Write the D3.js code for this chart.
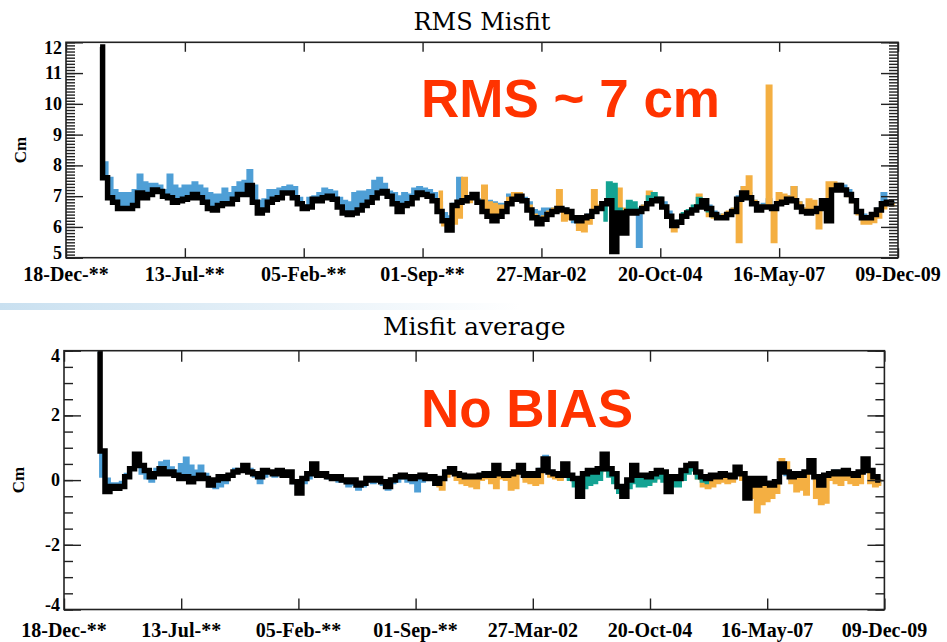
<!DOCTYPE html>
<html>
<head>
<meta charset="utf-8">
<script src="https://cdn.jsdelivr.net/npm/d3@7"></script>
<style>
    body { margin: 0; background: #fff; }
</style>
</head>
<body>
<svg id="chart" width="947" height="642"></svg>
<script>
// one sample every 4 cycles, first one at the start of the mission
var startDate = new Date(1992, 8, 12);
var stepDays = 39.4;

var tickDates = ['1991-12-18', '1994-07-13', '1997-02-05', '1999-09-01',
                 '2002-03-27', '2004-10-20', '2007-05-16', '2009-12-09'];
var tickLabels = ['18-Dec-**', '13-Jul-**', '05-Feb-**', '01-Sep-**',
                  '27-Mar-02', '20-Oct-04', '16-May-07', '09-Dec-09'];

var rmsTicks = [5, 6, 7, 8, 9, 10, 11, 12];
var avgTicks = [-4, -2, 0, 2, 4];

// RMS misfit (cm)
var rmsBlack = [
    11.85, 7.6, 6.95, 6.8, 6.6, 6.6, 6.6, 6.7, 7.1, 6.95,
    7.05, 7.2, 7.15, 7.0, 6.95, 6.8, 6.85, 6.9, 6.95, 7.05,
    6.95, 6.8, 6.6, 6.55, 6.7, 6.75, 6.75, 6.9, 7.05, 7.05,
    7.35, 6.8, 6.45, 6.55, 6.8, 6.9, 6.95, 7.1, 7.1, 6.95,
    6.75, 6.6, 6.65, 6.9, 6.85, 6.95, 7.0, 6.9, 6.65, 6.45,
    6.4, 6.45, 6.55, 6.7, 6.8, 6.95, 7.1, 7.15, 7.0, 6.75,
    6.5, 6.7, 6.75, 6.95, 7.1, 7.05, 7.0, 6.85, 6.5, 6.2,
    5.9, 6.7, 6.8, 6.85, 6.95, 7.05, 6.8, 6.5, 6.35, 6.2,
    6.35, 6.5, 6.75, 6.9, 7.0, 6.85, 6.55, 6.3, 6.1, 6.25,
    6.4, 6.5, 6.6, 6.55, 6.5, 6.3, 6.2, 6.3, 6.35, 6.5,
    6.6, 6.75, 6.85, 5.2, 6.45, 5.8, 6.5, 6.45, 6.5, 6.6,
    6.75, 6.85, 6.9, 6.65, 6.35, 6.05, 6.15, 6.35, 6.45, 6.55,
    6.65, 6.85, 6.6, 6.4, 6.3, 6.3, 6.4, 6.5, 6.9, 7.1,
    6.95, 6.75, 6.55, 6.65, 6.65, 6.6, 6.75, 6.8, 6.9, 6.85,
    6.65, 6.5, 6.45, 6.5, 6.6, 6.85, 6.2, 7.2, 7.35, 7.2,
    7.05, 6.85, 6.5, 6.3, 6.3, 6.4, 6.55, 6.75, 6.8, 6.75
];
var rmsBlue = [
    11.85, 8.1, 7.6, 7.2, 7.1, 7.1, 7.1, 7.2, 7.7, 7.45,
    7.4, 7.4, 7.35, 7.2, 7.7, 7.35, 7.25, 7.35, 7.35, 7.45,
    7.35, 7.25, 7.1, 7.05, 7.05, 7.25, 7.1, 7.3, 7.45, 7.5,
    7.85, 7.35, 6.85, 6.9, 7.2, 7.2, 7.25, 7.3, 7.35, 7.3,
    6.95, 6.7, 6.95, 7.0, 7.1, 7.25, 7.2, 7.15, 6.95, 6.85,
    6.8, 7.1, 7.15, 7.15, 7.2, 7.5, 7.6, 7.4, 7.15, 7.1,
    7.0, 7.1, 7.05, 7.25, 7.3, 7.25, 7.2, 7.1, 6.8, 6.45,
    6.35, 6.75, 7.6, 6.85, 6.95, 7.05, 6.9, 6.85, 6.85, 6.8,
    6.75, 6.75, 7.05, 7.1, 7.05, 6.95, 6.8, 6.55, 6.5, 6.6,
    6.6, 6.6, 6.65, 6.6, 6.55, 6.15, 6.05, 6.2, 6.4, 6.55,
    6.65, 6.8, 6.9, 6.95, 6.6, 6.5, 6.5, 6.55, 5.35, 6.7,
    6.8, 6.9, 6.95, 6.8, 6.5, 6.1, 6.2, 6.4, 6.5, 6.6,
    6.7, 6.85, 6.7, 6.5, 6.4, 6.35, 6.45, 6.6, 7.0, 7.3,
    7.1, 6.85, 6.6, 6.75, 6.9, 6.7, 6.8, 6.9, 7.0, 7.3,
    6.8, 6.6, 6.5, 6.55, 6.65, 6.9, 6.8, 7.25, 7.4, 7.35,
    7.2, 6.9, 6.55, 6.4, 6.35, 6.45, 6.6, 7.1, 6.85, 6.8
];
var rmsOrangeStart = 68;
var rmsOrange = [
    7.15, 6.05, 6.0, 6.1, 6.3, 7.6, 6.8, 7.0, 6.85, 7.35,
    6.8, 6.75, 6.7, 6.7, 6.95, 7.1, 7.1, 6.9, 6.7, 6.4,
    6.3, 6.35, 6.5, 6.6, 7.2, 6.2, 6.25, 6.3, 5.9, 5.85,
    6.1, 7.2, 6.7, 6.8, 6.9, 6.9, 7.25, 6.6, 6.55, 6.5,
    6.55, 6.7, 7.15, 7.0, 6.9, 6.7, 6.3, 5.85, 6.1, 6.3,
    6.5, 6.6, 7.05, 6.9, 6.35, 6.3, 6.3, 6.4, 6.5, 6.6,
    5.5, 7.3, 7.65, 6.85, 6.6, 6.7, 10.6, 5.5, 7.1, 7.05,
    7.0, 7.3, 6.8, 6.6, 6.9, 6.85, 5.95, 6.9, 7.45, 7.45,
    7.4, 7.2, 7.0, 6.8, 6.4, 6.1, 6.1, 6.15, 6.3, 6.6,
    6.75, 6.7
];
var rmsTealStart = 101;
var rmsTeal = [
    6.2, 7.45, 7.4, 6.6, 6.5, 6.85, 6.8, 6.6, 6.65, 7.0,
    7.1, 6.95, 6.7, 6.35, 6.1, 6.2, 6.45, 6.55, 6.7, 6.95,
    6.9, 6.5, 6.35, 6.3
];

// misfit average (cm)
var avgBlack = [
    3.95, 0.9, -0.35, -0.2, -0.25, -0.2, 0.1, 0.35, 0.8, 0.45,
    0.3, 0.1, 0.2, 0.35, 0.2, 0.25, 0.15, 0.05, 0.1, -0.05,
    0.05, 0.15, 0.05, -0.15, 0.0, 0.1, 0.05, 0.15, 0.25, 0.3,
    0.45, 0.25, 0.2, 0.1, 0.3, 0.25, 0.2, 0.3, 0.15, 0.25,
    -0.05, -0.4, 0.05, 0.2, 0.5, 0.15, 0.2, 0.1, 0.05, 0.1,
    0.0, -0.05, 0.0, -0.15, -0.1, 0.05, 0.0, 0.05, -0.05, -0.2,
    0.0, 0.1, 0.15, 0.1, 0.05, 0.1, 0.15, 0.05, 0.1, -0.1,
    0.05, 0.25, 0.35, 0.2, 0.15, 0.1, 0.12, 0.1, 0.15, 0.2,
    0.15, 0.45, 0.2, 0.15, 0.2, 0.25, 0.45, 0.15, 0.2, 0.15,
    0.3, 0.65, 0.25, 0.2, 0.15, 0.5, 0.15, 0.05, -0.5, 0.2,
    0.3, 0.25, 0.35, 0.8, 0.35, 0.2, -0.2, -0.5, 0.0, 0.45,
    0.15, 0.15, 0.1, 0.2, 0.3, 0.25, -0.35, 0.1, 0.05, 0.3,
    0.45, 0.5, 0.25, 0.1, 0.05, 0.15, 0.1, 0.2, 0.15, 0.1,
    0.4, 0.2, -0.55, 0.05, -0.15, 0.05, -0.1, -0.15, -0.05, 0.5,
    0.25, 0.1, 0.2, 0.15, 0.25, 0.6, 0.1, -0.15, 0.15, 0.2,
    0.25, 0.2, 0.3, 0.2, 0.15, 0.25, 0.65, 0.3, 0.1, 0.0
];
var avgBlue = [
    3.95, 0.1, 0.05, -0.1, -0.1, -0.05, 0.2, 0.4, 0.7, 0.2,
    0.05, -0.05, 0.35, 0.55, 0.6, 0.4, 0.3, 0.5, 0.7, 0.45,
    0.3, 0.45, 0.2, -0.2, -0.25, -0.2, -0.1, 0.1, 0.35, 0.3,
    0.5, 0.35, 0.1, -0.1, 0.1, 0.2, 0.1, 0.2, 0.1, 0.15,
    -0.1, -0.3, -0.1, 0.05, 0.3, 0.1, 0.15, 0.05, 0.0, -0.05,
    -0.05, -0.2, -0.15, -0.3, -0.2, -0.05, -0.1, -0.05, -0.15, -0.3,
    -0.1, -0.05, 0.05, -0.05, -0.1, -0.35, -0.05, 0.0, 0.05, -0.15,
    0.0, 0.3, 0.3, 0.15, 0.1, 0.0, -0.15, -0.1, 0.05, 0.1,
    0.05, 0.3, 0.1, 0.05, 0.1, 0.15, 0.3, 0.05, 0.1, 0.05,
    0.35, 0.75, 0.2, 0.1, 0.05, 0.35, 0.05, -0.05, -0.4, 0.1,
    0.2, 0.15, 0.25, 0.6, 0.25, 0.1, -0.3, -0.45, -0.1, 0.3,
    0.05, 0.05, 0.0, 0.1, 0.2, 0.15, -0.3, 0.0, -0.05, 0.2,
    0.4, 0.45, 0.15, 0.0, -0.05, 0.05, 0.0, 0.1, 0.05, 0.0,
    0.3, 0.1, -0.45, -0.05, -0.25, -0.05, -0.2, -0.2, -0.1, 0.35,
    0.15, 0.0, 0.1, 0.05, 0.15, 0.45, 0.0, -0.2, 0.05, 0.25,
    0.3, 0.25, 0.3, 0.25, 0.1, 0.2, 0.5, 0.2, 0.0, -0.1
];
var avgOrangeStart = 69;
var avgOrange = [
    -0.2, -0.3, 0.1, 0.2, 0.0, -0.1, -0.15, -0.2, -0.25, 0.0,
    0.05, -0.1, -0.25, 0.05, 0.0, -0.3, -0.25, 0.2, -0.05, -0.1,
    -0.15, -0.1, 0.5, 0.1, 0.05, 0.0, 0.3, 0.1, 0.0, -0.4,
    0.0, 0.1, 0.05, 0.2, 0.6, 0.2, 0.05, -0.15, -0.35, -0.05,
    0.3, 0.0, -0.05, -0.1, 0.0, 0.1, 0.05, -0.25, -0.1, -0.15,
    0.1, 0.3, 0.3, 0.05, -0.2, -0.25, -0.2, -0.1, -0.05, -0.1,
    -0.05, 0.2, 0.0, -0.4, -0.55, -1.0, -0.75, -0.65, -0.55, -0.4,
    0.65, 0.55, -0.1, -0.35, -0.3, -0.45, 0.3, -0.55, -0.75, -0.7,
    0.0, -0.1, -0.15, 0.0, -0.1, -0.15, -0.1, 0.3, -0.1, -0.2,
    -0.15
];
var avgTealStart = 95;
var avgTeal = [
    0.1, 0.0, -0.2, -0.5, -0.25, -0.15, -0.1, 0.0, 0.3, 0.1,
    -0.1, -0.4, -0.55, -0.25, -0.1, -0.2, -0.2, -0.15, -0.05, 0.05,
    -0.05, -0.35, -0.2, -0.2, 0.0, 0.2, 0.3, 0.05, -0.05, -0.1
];

var BLUE = '#4f9fd6';
var ORANGE = '#f4af42';
var TEAL = '#14a393';
var RED = '#ff3300';
var AXIS = '#222';

var parseDay = d3.timeParse('%Y-%m-%d');
var svg = d3.select('#chart');
var defs = svg.append('defs');

// pale slide decoration between the two panels
var grad = defs.append('linearGradient').attr('id', 'swoosh');
grad.append('stop').attr('offset', '0%').attr('stop-color', '#c9e0f0');
grad.append('stop').attr('offset', '100%').attr('stop-color', '#c9e0f0').attr('stop-opacity', 0);
svg.append('rect')
    .attr('x', 0).attr('y', 303).attr('width', 520).attr('height', 7)
    .attr('fill', 'url(#swoosh)');

function sampleDate(i) {
    return new Date(startDate.getTime() + i * stepDays * 864e5);
}

function drawPanel(p) {
    var x = d3.scaleTime()
        .domain([parseDay(tickDates[0]), parseDay(tickDates[tickDates.length - 1])])
        .range([p.left, p.right]);
    var y = d3.scaleLinear().domain(p.domain).range([p.bottom, p.top]);

    defs.append('clipPath').attr('id', 'clip-' + p.id)
        .append('rect')
        .attr('x', p.left).attr('y', p.top)
        .attr('width', p.right - p.left).attr('height', p.bottom - p.top);

    var g = svg.append('g').attr('clip-path', 'url(#clip-' + p.id + ')');

    // coloured series drawn as bands out from the black reference curve
    p.bands.forEach(function (b) {
        var pts = b.values.map(function (v, k) {
            var i = b.start + k;
            return {t: sampleDate(i), base: p.black[i], v: v};
        });
        var area = d3.area()
            .x(function (d) { return x(d.t); })
            .y0(function (d) { return y(d.base); })
            .y1(function (d) { return y(d.v); })
            .curve(d3.curveStep);
        g.append('path')
            .datum(pts)
            .attr('d', area)
            .attr('fill', b.color)
            .attr('stroke', b.color)
            .attr('stroke-width', 2);
    });

    var rows = p.black.map(function (v, i) { return {t: sampleDate(i), v: v}; });
    var line = d3.line()
        .x(function (d) { return x(d.t); })
        .y(function (d) { return y(d.v); })
        .curve(d3.curveStep);
    g.append('path')
        .datum(rows)
        .attr('d', line)
        .attr('fill', 'none')
        .attr('stroke', '#000')
        .attr('stroke-width', 5.5)
        .attr('stroke-linejoin', 'miter');

    // ticks
    var minor = d3.range(p.domain[0] * p.minorDiv, p.domain[1] * p.minorDiv + 0.5)
        .map(function (k) { return k / p.minorDiv; });
    var dates = tickDates.map(parseDay);

    var axes = [
        [d3.axisRight(y).tickValues(minor).tickSize(9), 'translate(' + p.left + ',0)'],
        [d3.axisRight(y).tickValues(p.ticks).tickSize(17), 'translate(' + p.left + ',0)'],
        [d3.axisLeft(y).tickValues(minor).tickSize(9), 'translate(' + p.right + ',0)'],
        [d3.axisLeft(y).tickValues(p.ticks).tickSize(17), 'translate(' + p.right + ',0)'],
        [d3.axisTop(x).tickValues(dates).tickSize(p.xTick), 'translate(0,' + p.bottom + ')'],
        [d3.axisBottom(x).tickValues(dates).tickSize(p.xTick), 'translate(0,' + p.top + ')']
    ];
    axes.forEach(function (a) {
        var ag = svg.append('g')
            .attr('transform', a[1])
            .call(a[0].tickFormat(''));
        ag.select('.domain').remove();
        ag.selectAll('line').attr('stroke', AXIS).attr('stroke-width', 1.4);
    });

    svg.append('rect')
        .attr('x', p.left).attr('y', p.top)
        .attr('width', p.right - p.left).attr('height', p.bottom - p.top)
        .attr('fill', 'none')
        .attr('stroke', AXIS)
        .attr('stroke-width', 1.6);

    // y labels, kept inside the frame at the ends
    svg.append('g').selectAll('text')
        .data(p.ticks)
        .enter().append('text')
        .attr('x', p.labelRight)
        .attr('y', function (d) {
            var c = Math.max(p.top + 5.5, Math.min(p.bottom - 5, y(d)));
            return c + 6;
        })
        .attr('text-anchor', 'end')
        .style('font-family', '"Liberation Serif", serif')
        .style('font-weight', 'bold')
        .style('font-size', '18px')
        .text(function (d) { return d; });

    // x labels
    svg.append('g').selectAll('text')
        .data(tickLabels)
        .enter().append('text')
        .attr('x', function (d, i) { return x(dates[i]); })
        .attr('y', p.xLabelY)
        .attr('text-anchor', 'middle')
        .style('font-family', '"Liberation Serif", serif')
        .style('font-weight', 'bold')
        .style('font-size', '20px')
        .text(function (d) { return d; });

    svg.append('text')
        .attr('x', (p.left + p.right) / 2)
        .attr('y', p.titleY)
        .attr('text-anchor', 'middle')
        .style('font-family', '"DejaVu Serif", serif')
        .style('font-size', p.titleSize + 'px')
        .text(p.title);

    svg.append('text')
        .attr('transform', 'translate(' + p.unitX + ',' + (p.top + p.bottom) / 2 + ') rotate(-90)')
        .attr('text-anchor', 'middle')
        .style('font-family', '"Liberation Serif", serif')
        .style('font-weight', 'bold')
        .style('font-size', '17px')
        .text('Cm');

    svg.append('text')
        .attr('x', 421)
        .attr('y', p.noteY)
        .style('font-family', '"Liberation Sans", Arial, sans-serif')
        .style('font-weight', 'bold')
        .style('font-size', '53px')
        .attr('fill', RED)
        .text(p.note);
}

drawPanel({
    id: 'rms', title: 'RMS Misfit', titleY: 30, titleSize: 24,
    note: 'RMS ~ 7 cm', noteY: 117,
    left: 66, right: 898, top: 42.3, bottom: 257.7,
    domain: [5, 12], ticks: rmsTicks, minorDiv: 10, xTick: 9.5,
    labelRight: 62, xLabelY: 281, unitX: 26,
    black: rmsBlack,
    bands: [
        {start: 0, values: rmsBlue, color: BLUE},
        {start: rmsOrangeStart, values: rmsOrange, color: ORANGE},
        {start: rmsTealStart, values: rmsTeal, color: TEAL}
    ]
});

drawPanel({
    id: 'avg', title: 'Misfit average', titleY: 335, titleSize: 25,
    note: 'No BIAS', noteY: 427,
    left: 64, right: 884.4, top: 350.7, bottom: 609.5,
    domain: [-4, 4], ticks: avgTicks, minorDiv: 2, xTick: 11,
    labelRight: 60, xLabelY: 637, unitX: 24,
    black: avgBlack,
    bands: [
        {start: 0, values: avgBlue, color: BLUE},
        {start: avgOrangeStart, values: avgOrange, color: ORANGE},
        {start: avgTealStart, values: avgTeal, color: TEAL}
    ]
});
</script>
</body>
</html>
